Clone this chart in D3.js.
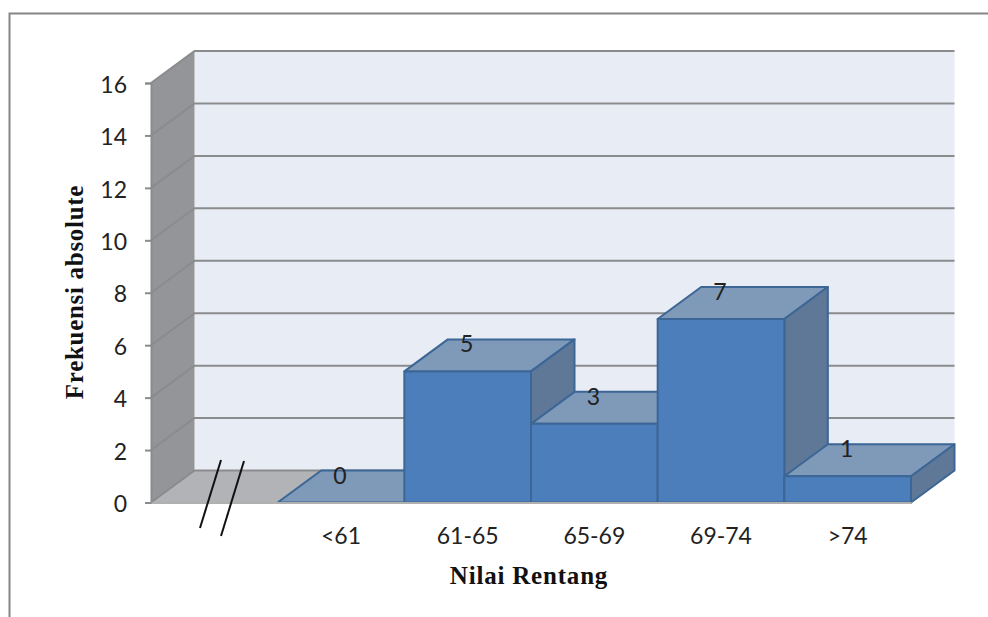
<!DOCTYPE html>
<html>
<head>
<meta charset="utf-8">
<script src="https://cdnjs.cloudflare.com/ajax/libs/d3/7.8.5/d3.min.js"></script>
<style>
    html, body { margin: 0; padding: 0; background: #fff; overflow: hidden; }
    svg { display: block; }
</style>
</head>
<body>
<div id="chart"></div>
<script>
// first slot on the x axis is empty in the original, the break marks sit there
const categories = ["", "<61", "61-65", "65-69", "69-74", ">74"]
const frequencies = [null, 0, 5, 3, 7, 1]
const yTicks = [0, 2, 4, 6, 8, 10, 12, 14, 16]

const width = 988, height = 617
const depthX = 43.5, depthY = 32
const labelFont = "Lato, sans-serif"
const titleFont = "'Liberation Serif', serif"

const svg = d3.select("#chart").append("svg")
    .attr("width", width)
    .attr("height", height)

const x = d3.scaleBand().domain(categories).range([151, 911])
const y = d3.scaleLinear().domain([0, 16]).range([502.5, 83])

const poly = (pts, fill, stroke) => svg.append("polygon")
    .attr("points", pts.map(p => p.join(",")).join(" "))
    .attr("fill", fill)
    .attr("stroke", stroke || "none")
    .attr("stroke-width", stroke ? 2 : 0)
    .attr("stroke-linejoin", "round")

// outer frame, only top and left show in the picture
svg.append("path")
    .attr("d", "M9.5,617V13.5H988")
    .attr("fill", "none")
    .attr("stroke", "#868686")
    .attr("stroke-width", 2)

const left = x.range()[0], right = x.range()[1]
const y0 = y(0), yMax = y(16)

// back wall, side wall, floor
poly([[left + depthX, yMax - depthY], [right + depthX, yMax - depthY], [right + depthX, y0 - depthY], [left + depthX, y0 - depthY]], "#e8ecf5")
poly([[left, yMax], [left + depthX, yMax - depthY], [left + depthX, y0 - depthY], [left, y0]], "#949598")
poly([[left, y0], [left + depthX, y0 - depthY], [right + depthX, y0 - depthY], [right, y0]], "#b1b3b6")

// gridlines wrap round side wall and back wall
svg.append("g").selectAll("path")
    .data(yTicks)
    .enter()
    .append("path")
    .attr("d", d => "M" + left + "," + y(d) + "L" + (left + depthX) + "," + (y(d) - depthY) + "H" + (right + depthX))
    .attr("fill", "none")
    .attr("stroke", "#8a8b8d")
    .attr("stroke-width", 2)

const rows = categories.map((c, i) => ({ category: c, value: frequencies[i] })).filter(d => d.value !== null)

// left to right so each bar paints over the top of the one before it
rows.forEach(d => {
    const x0 = x(d.category), x1 = x0 + x.bandwidth(), yTop = y(d.value)
    const edge = "#3b6695"
    poly([[x0, yTop], [x0 + depthX, yTop - depthY], [x1 + depthX, yTop - depthY], [x1, yTop]], "#7f99b8", edge)
    if (d.value > 0) {
        poly([[x1, yTop], [x1 + depthX, yTop - depthY], [x1 + depthX, y0 - depthY], [x1, y0]], "#5f7898", edge)
        poly([[x0, yTop], [x1, yTop], [x1, y0], [x0, y0]], "#4c7ebc", edge)
    }
})

// axes
const yAxis = svg.append("g")
    .attr("transform", "translate(" + left + ",0)")
    .call(d3.axisLeft(y).tickValues(yTicks).tickSize(6).tickPadding(18))
yAxis.select(".domain").attr("stroke", "#8a8b8d").attr("stroke-width", 2)
yAxis.selectAll("line").attr("stroke", "#8a8b8d").attr("stroke-width", 2)
yAxis.selectAll("text").attr("font-family", labelFont).attr("font-size", 23).attr("fill", "#222").attr("dy", "0.4em")

const xAxis = svg.append("g")
    .attr("transform", "translate(0," + y0 + ")")
    .call(d3.axisBottom(x).tickSize(0).tickPadding(25))
xAxis.select(".domain").attr("stroke", "#b0b0b0").attr("stroke-width", 2)
xAxis.selectAll("text").attr("font-family", labelFont).attr("font-size", 23).attr("fill", "#222")

// value labels
svg.append("g").selectAll("text")
    .data(rows)
    .enter()
    .append("text")
    .attr("x", d => x(d.category) + x.bandwidth() / 2 - 1)
    .attr("y", d => y(d.value) - 19)
    .attr("text-anchor", "middle")
    .attr("font-family", labelFont)
    .attr("font-size", 23)
    .attr("fill", "#222")
    .text(d => d.value)

// axis break marks
svg.append("g").selectAll("line")
    .data([[200, 528, 221, 460], [221, 536, 244, 461]])
    .enter()
    .append("line")
    .attr("x1", d => d[0]).attr("y1", d => d[1])
    .attr("x2", d => d[2]).attr("y2", d => d[3])
    .attr("stroke", "#111")
    .attr("stroke-width", 2)

// axis titles
svg.append("text")
    .attr("x", 529)
    .attr("y", 584)
    .attr("text-anchor", "middle")
    .attr("font-family", titleFont)
    .attr("font-weight", "bold")
    .attr("font-size", 25)
    .attr("letter-spacing", 0.8)
    .attr("fill", "#111")
    .text("Nilai Rentang")

svg.append("text")
    .attr("transform", "translate(83,292) rotate(-90)")
    .attr("text-anchor", "middle")
    .attr("font-family", titleFont)
    .attr("font-weight", "bold")
    .attr("font-size", 25)
    .attr("letter-spacing", 0.7)
    .attr("fill", "#111")
    .text("Frekuensi absolute")
</script>
</body>
</html>
